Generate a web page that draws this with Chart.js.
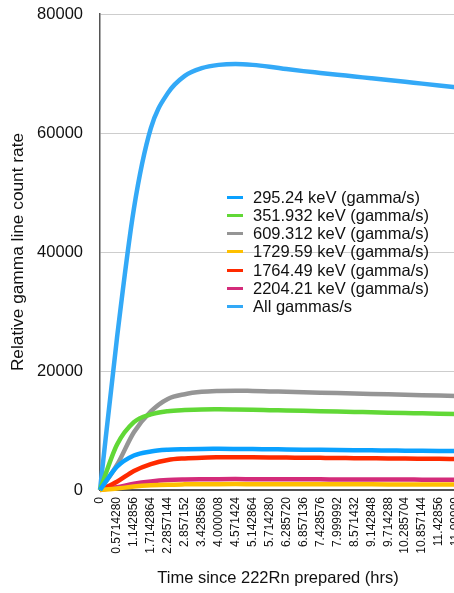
<!DOCTYPE html>
<html><head><meta charset="utf-8">
<script src="https://cdn.jsdelivr.net/npm/chart.js@4.4.0/dist/chart.umd.min.js"></script>
<style>
html,body{margin:0;padding:0;background:#fff;overflow:hidden;width:454px;height:593px;}
#wrap{position:absolute;left:0;top:0;width:476px;height:593px;}
#legend{position:absolute;left:227px;top:187.5px;font-family:'Liberation Sans',Arial,Helvetica,sans-serif;font-size:16.5px;color:#111;}
.row{height:18.33px;line-height:18.33px;position:relative;white-space:nowrap;padding-left:26px;}
.sw{position:absolute;left:0;top:8px;width:16px;height:3px;}
</style></head><body>
<div id="wrap"><canvas id="c" width="476" height="593" style="width:476px;height:593px"></canvas></div>
<div id="legend"></div>
<script>
const timeLabels = ["0","0.5714280","1.142856","1.7142864","2.2857144","2.857152","3.428568","4.000008","4.571424","5.142864","5.714280","6.285720","6.857136","7.428576","7.999992","8.571432","9.142848","9.714288","10.285704","10.857144","11.42856","11.99999"];
const seriesNames = ["295.24 keV (gamma/s)","351.932 keV (gamma/s)","609.312 keV (gamma/s)","1729.59 keV (gamma/s)","1764.49 keV (gamma/s)","2204.21 keV (gamma/s)","All gammas/s"];
const seriesColors = ["#0AA1FF","#61D836","#959595","#FEC000","#FF2A00","#D42B7A","#33A9F7"];
const kev295 = [0,3900,5800,6480,6760,6860,6910,6915,6900,6875,6845,6815,6785,6755,6725,6695,6665,6640,6615,6590,6565,6540];
const kev352 = [0,7600,11400,12700,13250,13450,13550,13560,13530,13480,13420,13360,13300,13240,13180,13120,13060,13000,12940,12880,12820,12760];
const kev609 = [0,4200,9700,13200,15300,16100,16500,16650,16700,16640,16570,16500,16430,16360,16290,16220,16150,16080,16010,15940,15870,15800];
const kev1730 = [0,250,570,780,900,950,975,985,990,985,980,975,970,965,960,955,950,945,940,935,930,925];
const kev1764 = [0,1390,3200,4360,5050,5310,5440,5490,5510,5490,5470,5450,5420,5400,5380,5350,5330,5310,5280,5260,5240,5210];
const kev2204 = [0,460,1060,1440,1670,1760,1800,1820,1830,1820,1815,1805,1800,1790,1780,1775,1765,1755,1750,1740,1730,1720];
const allGammas = [0,25500,47300,60800,66700,69600,70900,71450,71600,71450,71150,70750,70400,70100,69800,69500,69200,68900,68600,68300,68000,67700];
const yTicks = [0,20000,40000,60000,80000];

const seriesData = [kev295,kev352,kev609,kev1730,kev1764,kev2204,allGammas];
const FONT = "'Liberation Sans', Arial, Helvetica, sans-serif";

const datasets = seriesData.map((d,i)=>({
  label: seriesNames[i],
  data: d,
  borderColor: seriesColors[i],
  backgroundColor: seriesColors[i],
  borderWidth: 4.5,
  pointRadius: 0,
  pointHoverRadius: 0,
  fill: false,
  cubicInterpolationMode: 'monotone',
  clip: false
}));

const chart = new Chart(document.getElementById('c'), {
  type: 'line',
  data: { labels: timeLabels, datasets },
  options: {
    responsive: false,
    animation: false,
    devicePixelRatio: 1,
    layout: { padding: { top: 14, right: 20, bottom: 0, left: 0 } },
    plugins: { legend: { display: false }, tooltip: { enabled: false } },
    scales: {
      x: {
        type: 'category',
        offset: false,
        grid: { display: false, drawTicks: false },
        border: { display: true, color: '#555', width: 1.5 },
        ticks: {
          autoSkip: false, maxRotation: 90, minRotation: 90, padding: 7,
          color: '#111', font: { family: FONT, size: 12 }
        },
        title: {
          display: true, text: 'Time since 222Rn prepared (hrs)', color: '#111',
          font: { family: FONT, size: 16.5 }, padding: { top: 0, bottom: 5 }
        },
        afterFit: s => { s.height = 103; s.paddingLeft = 0; s.paddingRight = 0; }
      },
      y: {
        min: 0, max: 80000,
        afterBuildTicks: s => { s.ticks = yTicks.map(v => ({ value: v })); },
        grid: {
          drawTicks: false,
          color: c => (c.tick && c.tick.value === 0) ? '#555' : '#cdcdcd',
          lineWidth: 1
        },
        border: { display: true, color: '#555', width: 1.5 },
        ticks: {
          padding: 17, color: '#111', font: { family: FONT, size: 16.5 },
          callback: v => String(v)
        },
        title: {
          display: true, text: 'Relative gamma line count rate', color: '#111',
          font: { family: FONT, size: 17.3 }, padding: { top: 8, bottom: 0 }
        },
        afterFit: s => { s.width = 100; s.paddingTop = 0; s.paddingBottom = 0; }
      }
    }
  }
});

const lg = document.getElementById('legend');
chart.data.datasets.forEach(ds => {
  const row = document.createElement('div');
  row.className = 'row';
  const sw = document.createElement('span');
  sw.className = 'sw';
  sw.style.background = ds.borderColor;
  row.appendChild(sw);
  row.appendChild(document.createTextNode(ds.label));
  lg.appendChild(row);
});
</script>
</body></html>
